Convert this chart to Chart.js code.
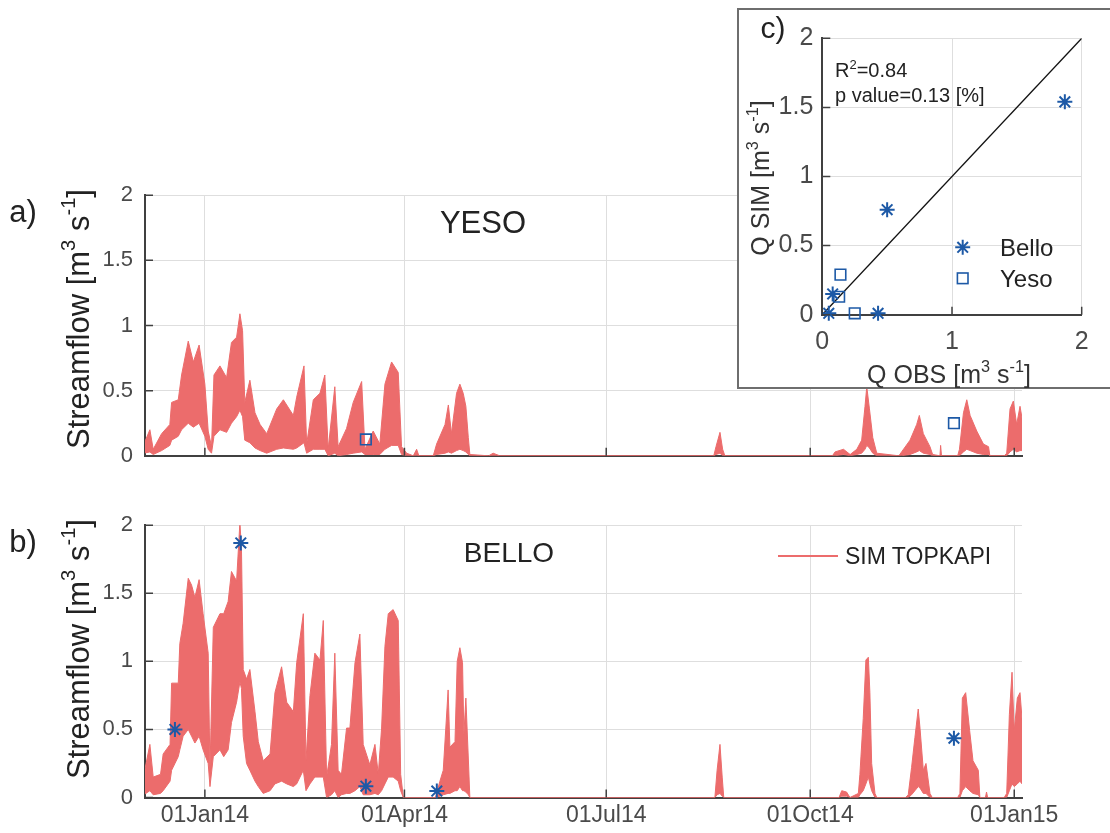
<!DOCTYPE html>
<html lang="en">
<head>
<meta charset="UTF-8">
<title>Streamflow YESO / BELLO</title>
<script src="https://cdn.jsdelivr.net/npm/chart.js"></script>
<style>
  body { margin: 0; background: #fff; font-family: "Liberation Sans", Arial, sans-serif; overflow: hidden; }
  #page { position: relative; width: 1110px; height: 833px; overflow: hidden; }
  canvas { position: absolute; }
  .lbl { position: absolute; white-space: nowrap; color: #222; line-height: 1; }
  .ctr { transform: translate(-50%, -50%); }
  .rot { transform: translate(-50%, -50%) rotate(-90deg); }
  .mid { transform: translate(0, -50%); }
  sup { font-size: 0.65em; vertical-align: 0.65em; line-height: 0; }
  #inset { position: absolute; left: 737px; top: 8px; width: 500px; height: 377px;
           border: 2px solid #6e6e6e; background: #fff; }
  #legLine { position: absolute; left: 778px; top: 555px; width: 60px; height: 2px; background: #ec6c6c; }
</style>
</head>
<body>
<div id="page">
  <canvas id="yesoChart" width="1110" height="311" style="left:0;top:170px"></canvas>
  <canvas id="belloChart" width="1110" height="333" style="left:0;top:500px"></canvas>
  <div id="inset"></div>
  <canvas id="scatterChart" width="370" height="375" style="left:740px;top:11px"></canvas>

  <div class="lbl ctr" style="left:23px;top:211px;font-size:31px">a)</div>
  <div class="lbl ctr" style="left:23px;top:541px;font-size:31px">b)</div>
  <div class="lbl ctr" style="left:483px;top:222px;font-size:31px">YESO</div>
  <div class="lbl ctr" style="left:509px;top:553px;font-size:28px">BELLO</div>
  <div class="lbl rot" style="left:78px;top:319px;font-size:31px">Streamflow [m<sup>3</sup> s<sup>-1</sup>]</div>
  <div class="lbl rot" style="left:78px;top:649px;font-size:31px">Streamflow [m<sup>3</sup> s<sup>-1</sup>]</div>
  <div id="legLine"></div>
  <div class="lbl mid" style="left:845px;top:556px;font-size:23px">SIM TOPKAPI</div>

  <div class="lbl ctr" style="left:773px;top:28px;font-size:30px">c)</div>
  <div class="lbl rot" style="left:760px;top:178px;font-size:25px;color:#333">Q SIM [m<sup>3</sup> s<sup>-1</sup>]</div>
  <div class="lbl ctr" style="left:949px;top:374px;font-size:25px;color:#333">Q OBS [m<sup>3</sup> s<sup>-1</sup>]</div>
  <div class="lbl mid" style="left:835px;top:70px;font-size:20px">R<sup>2</sup>=0.84</div>
  <div class="lbl mid" style="left:835px;top:95px;font-size:20px">p value=0.13 [%]</div>
  <div class="lbl mid" style="left:1000px;top:248px;font-size:24px">Bello</div>
  <div class="lbl mid" style="left:1000px;top:279px;font-size:24px">Yeso</div>
</div>

<script>
// x values are days since 01 Jan 2014
const tickDays = [0, 90, 181, 273, 365];
const tickLabels = ['01Jan14', '01Apr14', '01Jul14', '01Oct14', '01Jan15'];

// YESO simulated streamflow (daily high / low of the band)
const yesoDay = [
  -27.5, -24.8, -23.3, -19.5, -15.8, -15, -12, -10.5, -7.5, -5.2,
  -2.6, 0, 1.5, 3, 4.1, 6.8, 9.8, 12, 14.3, 15.8,
  17, 18, 20.3, 22.6, 24.9, 27.9, 32.4, 35.4, 39.9, 41.4,
  44.7, 45.9, 48.9, 51.9, 54.1, 55.6, 58.6, 60.1, 63.9, 66.9,
  70.7, 72.2, 75.9, 78.9, 81.2, 84.2, 87.2, 88.7, 91, 94,
  95.5, 96.5, 103, 104.5, 108.3, 109.8, 111.2, 113.5, 115, 116.5,
  117.7, 118.8, 119.5, 128, 130, 133, 229.5, 230.5, 232.3, 233.5,
  234.5, 283, 284.2, 288, 291, 294, 296.2, 297.7, 298.5, 299.7,
  301.2, 303, 313, 314.2, 318, 321, 322.2, 324, 327, 328.2,
  331.5, 331.8, 332.2, 339.5, 340.3, 342.1, 343.6, 345.1, 348.1, 351.1,
  353.4, 354, 360.5, 361.6, 363.1, 364.6, 366.1, 367.6, 368.5
];
const yesoHigh = [
  0.09, 0.20, 0.05, 0.17, 0.24, 0.41, 0.43, 0.62, 0.88, 0.72,
  0.85, 0.55, 0.19, 0.07, 0.62, 0.69, 0.60, 0.87, 0.91, 1.09,
  0.96, 0.41, 0.58, 0.33, 0.24, 0.17, 0.36, 0.43, 0.31, 0.45,
  0.69, 0.09, 0.43, 0.48, 0.62, 0.05, 0.53, 0.07, 0.21, 0.41,
  0.57, 0.05, 0.19, 0.09, 0.55, 0.72, 0.64, 0.07, 0.02, 0,
  0.05, 0, 0, 0.09, 0.24, 0.39, 0.17, 0.48, 0.55, 0.48,
  0.38, 0.14, 0.01, 0, 0.02, 0, 0, 0.07, 0.18, 0.05,
  0, 0, 0.03, 0.05, 0.01, 0.05, 0.12, 0.38, 0.53, 0.36,
  0.14, 0.02, 0, 0.03, 0.12, 0.24, 0.31, 0.17, 0.07, 0.01,
  0, 0.08, 0, 0, 0.05, 0.33, 0.43, 0.31, 0.19, 0.09,
  0.07, 0, 0, 0.02, 0.36, 0.42, 0.24, 0.38, 0.29
];
const yesoLow = [
  0.02, 0.03, 0.01, 0.04, 0.08, 0.12, 0.15, 0.20, 0.25, 0.22,
  0.25, 0.15, 0.05, 0.02, 0.15, 0.20, 0.18, 0.25, 0.30, 0.35,
  0.30, 0.12, 0.10, 0.06, 0.04, 0.02, 0.05, 0.06, 0.05, 0.06,
  0.10, 0.02, 0.05, 0.05, 0.05, 0, 0.02, 0, 0.01, 0.02,
  0.03, 0.01, 0.01, 0.01, 0.05, 0.08, 0.08, 0.01, 0, 0,
  0, 0, 0, 0.01, 0.02, 0.03, 0.02, 0.04, 0.05, 0.04,
  0.03, 0.01, 0, 0, 0, 0, 0, 0.01, 0.02, 0,
  0, 0, 0, 0.01, 0, 0.01, 0.02, 0.05, 0.08, 0.06,
  0.02, 0, 0, 0, 0.01, 0.03, 0.04, 0.02, 0.01, 0,
  0, 0, 0, 0, 0, 0.03, 0.05, 0.04, 0.02, 0.01,
  0.01, 0, 0, 0, 0.03, 0.05, 0.03, 0.04, 0.04
];

// BELLO simulated streamflow
const belloDay = [
  -27.5, -24.8, -23.3, -20, -18.8, -15.7, -15, -12, -11.3, -9.8,
  -7.5, -6, -4.5, -2.6, -0.8, 1.5, 2.3, 3.8, 6.8, 8.5,
  10.5, 12, 14.3, 15.8, 16.5, 17.3, 18.8, 20.3, 22.6, 24.1,
  26.3, 29.4, 31.6, 34.6, 36.9, 39.9, 41.4, 44.4, 45.6, 47.4,
  49.6, 51.9, 53.4, 54.9, 57.1, 58.6, 60.1, 61.6, 63.9, 65.4,
  67.7, 69.9, 71.4, 74.4, 76.7, 78.2, 79.7, 81.2, 82.7, 84.9,
  87.2, 88.3, 89.5, 104, 106, 107.5, 109.7, 110.5, 112.8, 113.8,
  115, 116.2, 116.8, 117.7, 118.8, 119.5, 230, 231, 232.3, 233.3,
  234, 286, 287.2, 289.4, 290.9, 294.7, 295.4, 296.9, 298.1, 299.2,
  299.9, 300.7, 302.2, 303, 316, 317.2, 318.7, 320.2, 321.7, 322.5,
  324, 325.2, 327, 328, 339.5, 340.5, 341.6, 343.1, 344.9, 346.4,
  348.8, 349.5, 352, 352.5, 353, 360.5, 361.6, 362.8, 364, 365,
  366.4, 367.6, 368.5
];
const belloHigh = [
  0.17, 0.39, 0.15, 0.17, 0.32, 0.39, 0.84, 0.84, 1.13, 1.28,
  1.61, 1.56, 1.47, 1.60, 1.35, 1.06, 0.20, 1.25, 1.35, 1.35,
  1.44, 1.66, 1.59, 2.02, 1.83, 0.94, 0.87, 0.94, 0.63, 0.41,
  0.27, 0.32, 0.77, 0.96, 0.70, 0.63, 0.99, 1.35, 0.27, 0.75,
  1.06, 1.01, 1.30, 0.15, 0.39, 1.06, 0.20, 0.17, 0.51, 0.51,
  0.99, 1.20, 0.39, 0.24, 0.39, 0.17, 0.51, 1.11, 1.35, 1.38,
  1.30, 0.17, 0, 0, 0.12, 0.20, 0.79, 0.37, 0.41, 1.00,
  1.10, 0.99, 0.46, 0.73, 0.29, 0, 0, 0.20, 0.39, 0.15,
  0, 0, 0.05, 0.04, 0, 0.03, 0.17, 0.58, 1.01, 1.03,
  0.77, 0.25, 0.03, 0, 0, 0.02, 0.22, 0.44, 0.65, 0.51,
  0.20, 0.25, 0.03, 0, 0, 0.03, 0.73, 0.77, 0.49, 0.27,
  0.20, 0, 0, 0.04, 0, 0, 0.03, 0.61, 0.92, 0.49,
  0.73, 0.77, 0.58
];
const belloLow = [
  0.02, 0.05, 0.02, 0.03, 0.05, 0.12, 0.20, 0.30, 0.35, 0.45,
  0.50, 0.45, 0.40, 0.45, 0.35, 0.25, 0.08, 0.30, 0.35, 0.30,
  0.35, 0.55, 0.70, 0.85, 0.80, 0.45, 0.25, 0.20, 0.12, 0.08,
  0.03, 0.05, 0.10, 0.12, 0.10, 0.08, 0.10, 0.20, 0.05, 0.10,
  0.15, 0.15, 0.15, 0, 0.02, 0.05, 0, 0.02, 0.03, 0.03,
  0.05, 0.08, 0.02, 0.02, 0.03, 0.02, 0.05, 0.10, 0.15, 0.15,
  0.12, 0.05, 0, 0, 0.01, 0.02, 0.03, 0.03, 0.05, 0.05,
  0.08, 0.05, 0.05, 0.04, 0.02, 0, 0, 0.02, 0.03, 0.01,
  0, 0, 0.01, 0.01, 0, 0, 0.02, 0.05, 0.10, 0.15,
  0.10, 0.05, 0, 0, 0, 0, 0.02, 0.05, 0.08, 0.07,
  0.03, 0.03, 0, 0, 0, 0, 0.05, 0.08, 0.05, 0.03,
  0.02, 0, 0, 0, 0, 0, 0, 0.05, 0.10, 0.08,
  0.10, 0.12, 0.10
];

// observed flows on the time series panels
const yesoObsDay = [72.6, 337.8];
const yesoObsQ = [0.126, 0.25];
const belloObsDay = [-13.5, 16.2, 72.6, 104.6, 337.8];
const belloObsQ = [0.50, 1.87, 0.083, 0.047, 0.435];

// panel c: observed vs simulated
const belloQobs = [0.05, 0.08, 0.43, 0.50, 1.87];
const belloQsim = [0.01, 0.15, 0.01, 0.76, 1.54];
const yesoQobs = [0.14, 0.13, 0.25];
const yesoQsim = [0.29, 0.13, 0.01];
const oneToOne = [0, 2];

const RED = '#ec6c6c';
const BLUE = '#1d59a6';
const AXIS = '#404040';
const GRID = '#dedede';
const TICKTXT = '#4a4a4a';

Chart.defaults.font.family = '"Liberation Sans", Arial, sans-serif';
Chart.defaults.animation = false;

// MATLAB style tick marks pointing into the axes
const inwardTicks = {
  id: 'inwardTicks',
  afterDatasetsDraw(chart) {
    const { ctx, chartArea: a, scales: { x, y } } = chart;
    ctx.save();
    ctx.strokeStyle = AXIS;
    ctx.lineWidth = 1.5;
    ctx.beginPath();
    x.ticks.forEach(t => {
      const px = x.getPixelForValue(t.value);
      ctx.moveTo(px, a.bottom); ctx.lineTo(px, a.bottom - 8);
    });
    y.ticks.forEach(t => {
      const py = y.getPixelForValue(t.value);
      ctx.moveTo(a.left, py); ctx.lineTo(a.left + 8, py);
    });
    ctx.stroke();
    ctx.restore();
  }
};

const pts = (xs, ys) => xs.map((v, i) => ({ x: v, y: ys[i] }));

function seriesChart(id, day, high, low, obsDay, obsQ, obsStyle, showX, padTop, xHeight) {
  return new Chart(document.getElementById(id), {
    type: 'line',
    data: {
      datasets: [
        {
          type: 'scatter', data: pts(obsDay, obsQ), order: 0, clip: false,
          pointStyle: obsStyle, pointRadius: obsStyle === 'star' ? 7.5 : 7.5,
          borderColor: BLUE, backgroundColor: 'rgba(0,0,0,0)', borderWidth: obsStyle === 'star' ? 2 : 1.6
        },
        {
          data: pts(day, high), order: 1, fill: '+1',
          borderColor: RED, backgroundColor: RED, borderWidth: 1, pointRadius: 0, tension: 0
        },
        {
          data: pts(day, low), order: 2, fill: false,
          borderColor: RED, borderWidth: 1, pointRadius: 0, tension: 0
        }
      ]
    },
    options: {
      responsive: false,
      layout: { padding: { top: padTop, right: 88, left: 0, bottom: 0 } },
      plugins: { legend: { display: false }, tooltip: { enabled: false } },
      scales: {
        x: {
          type: 'linear', min: -27, max: 368.5,
          afterBuildTicks: s => { s.ticks = tickDays.map(v => ({ value: v })); },
          afterFit: s => { s.height = xHeight; },
          grid: { color: GRID, lineWidth: 1, drawTicks: false },
          border: { color: AXIS, width: 2 },
          ticks: {
            display: showX, padding: 4, color: TICKTXT, font: { size: 23 },
            maxRotation: 0, autoSkip: false,
            callback: (v, i) => tickLabels[i]
          }
        },
        y: {
          min: 0, max: 2,
          afterFit: s => { s.width = 145; },
          grid: { color: GRID, lineWidth: 1, drawTicks: false },
          border: { color: AXIS, width: 2 },
          ticks: { stepSize: 0.5, padding: 12, color: TICKTXT, font: { size: 22 }, callback: v => String(v) }
        }
      }
    },
    plugins: [inwardTicks]
  });
}

seriesChart('yesoChart', yesoDay, yesoHigh, yesoLow, yesoObsDay, yesoObsQ, 'rect', false, 18, 14.5);
seriesChart('belloChart', belloDay, belloHigh, belloLow, belloObsDay, belloObsQ, 'star', true, 20, 35.5);

// legend symbols for panel c (drawn next to the html labels)
const scatterLegend = {
  id: 'scatterLegend',
  afterDraw(chart) {
    const ctx = chart.ctx;
    ctx.save();
    ctx.strokeStyle = BLUE;
    ctx.lineWidth = 2;
    const sx = 222.7, sy = 236.3, r = 7.5;
    ctx.beginPath();
    for (let k = 0; k < 4; k++) {
      const ang = k * Math.PI / 4;
      ctx.moveTo(sx - r * Math.cos(ang), sy - r * Math.sin(ang));
      ctx.lineTo(sx + r * Math.cos(ang), sy + r * Math.sin(ang));
    }
    ctx.stroke();
    ctx.lineWidth = 1.6;
    ctx.strokeRect(222.7 - 5.3, 267.3 - 5.3, 10.6, 10.6);
    ctx.restore();
  }
};

new Chart(document.getElementById('scatterChart'), {
  type: 'scatter',
  data: {
    datasets: [
      {
        label: 'Bello', data: pts(belloQobs, belloQsim), order: 0, clip: false,
        pointStyle: 'star', pointRadius: 7.5, borderColor: BLUE, borderWidth: 2
      },
      {
        label: 'Yeso', data: pts(yesoQobs, yesoQsim), order: 1, clip: false,
        pointStyle: 'rect', pointRadius: 7.5, borderColor: BLUE, backgroundColor: 'rgba(0,0,0,0)', borderWidth: 1.6
      },
      {
        type: 'line', data: pts(oneToOne, oneToOne), order: 2,
        borderColor: '#111', borderWidth: 1.3, pointRadius: 0, fill: false
      }
    ]
  },
  options: {
    responsive: false,
    layout: { padding: { top: 27.3, right: 28.3, left: 0, bottom: 0 } },
    plugins: { legend: { display: false }, tooltip: { enabled: false } },
    scales: {
      x: {
        type: 'linear', min: 0, max: 2,
        afterFit: s => { s.height = 71.3; },
        grid: { color: GRID, lineWidth: 1, drawTicks: false },
        border: { color: AXIS, width: 2 },
        ticks: { stepSize: 1, padding: 12, color: TICKTXT, font: { size: 25 }, maxRotation: 0, callback: v => String(v) }
      },
      y: {
        min: 0, max: 2,
        afterFit: s => { s.width = 82.3; },
        grid: { color: GRID, lineWidth: 1, drawTicks: false },
        border: { color: AXIS, width: 2 },
        ticks: { stepSize: 0.5, padding: 9, color: TICKTXT, font: { size: 25 }, callback: v => String(v) }
      }
    }
  },
  plugins: [inwardTicks, scatterLegend]
});
</script>
</body>
</html>
